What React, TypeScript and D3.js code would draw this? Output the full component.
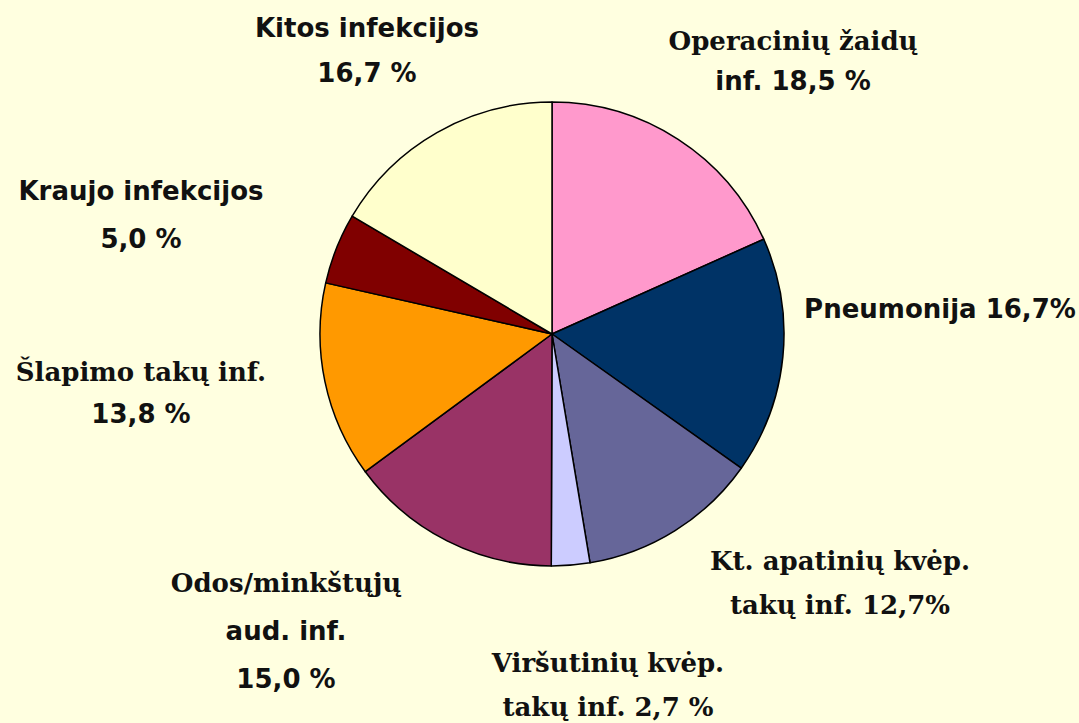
import React from "react";
import * as d3 from "d3";

const categories = [
  "Operacinių žaidų inf.",
  "Pneumonija",
  "Kt. apatinių kvėp. takų inf.",
  "Viršutinių kvėp. takų inf.",
  "Odos/minkštųjų aud. inf.",
  "Šlapimo takų inf.",
  "Kraujo infekcijos",
  "Kitos infekcijos",
];
const values = [18.5, 16.7, 12.7, 2.7, 15.0, 13.8, 5.0, 16.7];
const colors = ["#FF99CC", "#003366", "#666699", "#CCCCFF", "#993366", "#FF9900", "#800000", "#FFFFCC"];

type Line = { text: string; serif: boolean };
const labelLines: Line[][] = [
  [{ text: "Operacinių žaidų", serif: true }, { text: "inf. 18,5 %", serif: false }],
  [{ text: "Pneumonija 16,7%", serif: false }],
  [{ text: "Kt. apatinių kvėp.", serif: true }, { text: "takų inf. 12,7%", serif: true }],
  [{ text: "Viršutinių kvėp.", serif: true }, { text: "takų inf. 2,7 %", serif: true }],
  [{ text: "Odos/minkštųjų", serif: true }, { text: "aud. inf.", serif: false }, { text: "15,0 %", serif: false }],
  [{ text: "Šlapimo takų inf.", serif: true }, { text: "13,8 %", serif: false }],
  [{ text: "Kraujo infekcijos", serif: false }, { text: "5,0 %", serif: false }],
  [{ text: "Kitos infekcijos", serif: false }, { text: "16,7 %", serif: false }],
];
// label anchor (center x, first baseline y, line gaps)
const labelPos: [number, number, number[]][] = [
  [793, 50, [40]],
  [940, 318, []],
  [840, 570, [44]],
  [608, 672, [44]],
  [286, 592, [48, 48]],
  [141, 381, [42]],
  [141, 200, [48]],
  [367, 37, [45]],
];

export default function App() {
  const W = 1079, H = 723;
  const cx = 552, cy = 334, r = 232;
  const pie = d3.pie<number>().sort(null).value((d) => d).startAngle(0).endAngle(2 * Math.PI);
  const arcs = pie(values);
  const arc = d3.arc<d3.PieArcDatum<number>>().innerRadius(0).outerRadius(r);
  const sans = "'DejaVu Sans', Verdana, sans-serif";
  const serif = "'DejaVu Serif', 'Palatino Linotype', serif";
  return (
    <svg width={W} height={H} style={{ position: "absolute", left: 0, top: 0, display: "block" }}>
      <rect x={0} y={0} width={W} height={H} fill="#FFFFE0" />
      <g transform={`translate(${cx},${cy})`}>
        {arcs.map((a, i) => (
          <path key={categories[i]} d={arc(a) || ""} fill={colors[i]} stroke="#000" strokeWidth={1.5} strokeLinejoin="round" />
        ))}
      </g>
      {labelLines.map((lines, i) => {
        const [x, y, gaps] = labelPos[i];
        let yy = y;
        return (
          <g key={i}>
            {lines.map((l, j) => {
              if (j > 0) yy += gaps[j - 1];
              return (
                <text
                  key={j}
                  x={x}
                  y={yy}
                  textAnchor="middle"
                  fontFamily={l.serif ? serif : sans}
                  fontWeight="bold"
                  fontSize={26}
                  fill="#111"
                >
                  {l.text}
                </text>
              );
            })}
          </g>
        );
      })}
    </svg>
  );
}
